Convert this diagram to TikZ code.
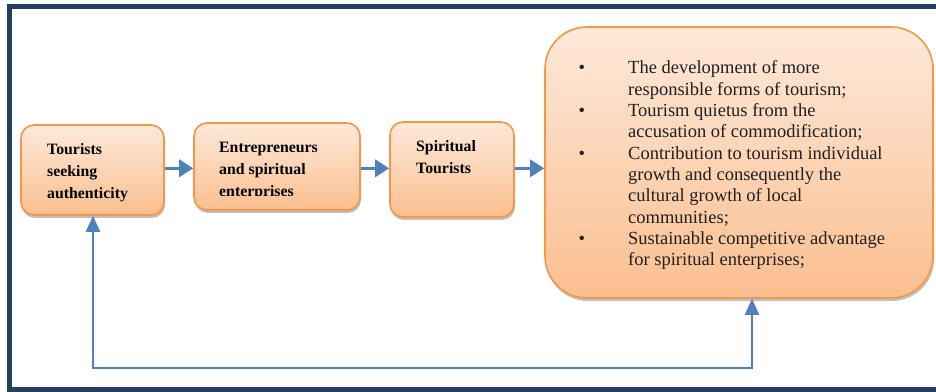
\documentclass[tikz,border=0pt]{standalone}
\usepackage{fontspec}
\setmainfont{Liberation Serif}
\usetikzlibrary{arrows.meta,shadows}
\definecolor{frameblue}{HTML}{243F60}
\definecolor{arrowblue}{HTML}{4F81BD}
\definecolor{boxedge}{HTML}{F79646}
\definecolor{boxtop}{HTML}{FDE9DA}
\definecolor{boxbot}{HTML}{FBBF8F}
\tikzset{
  obox/.style={rectangle, rounded corners=13pt, draw=boxedge, line width=1.6pt,
    top color=boxtop, bottom color=boxbot, inner sep=0pt,
    drop shadow={shadow xshift=1pt, shadow yshift=-3pt, fill=black, opacity=0.25}},
  bigbox/.style={obox, rounded corners=42pt},
  btext/.style={anchor=base west, inner sep=0pt, align=left,
    font=\fontsize{15.8}{22}\selectfont\bfseries},
  ltext/.style={anchor=base west, inner sep=0pt, align=left,
    font=\fontsize{18.5}{21.35}\selectfont, text=black!88},
  flow/.style={draw=arrowblue, line width=3.2pt,
    -{Triangle[width=17pt,length=14pt]}},
  fb/.style={draw=arrowblue, line width=2.4pt,
    {Triangle[width=14pt,length=16pt]}-{Triangle[width=14pt,length=16pt]}},
}
\begin{document}
\begin{tikzpicture}[x=1pt,y=1pt]
\useasboundingbox (0,0) rectangle (936,391);
\fill[white] (0,0) rectangle (936,391);
% frame
\draw[frameblue, line width=5pt] (940,384.2) -- (9.5,384.2) -- (9.5,1.5) -- (940,1.5);
% boxes
\node[obox, minimum width=143pt, minimum height=90pt] (b1) at (92.5,221) {};
\node[obox, minimum width=166pt, minimum height=87pt] (b2) at (277,224.5) {};
\node[obox, minimum width=124pt, minimum height=95pt] (b3) at (452,221.5) {};
\node[bigbox, minimum width=388pt, minimum height=271pt] (big) at (739,228.5) {};
% texts (anchored at the baseline of the last line)
\node[btext] (t1) at (47,192) {Tourists\\seeking\\authenticity};
\begin{scope}
  \clip (195,195) rectangle (359,266);
  \node[btext] (t2) at (219,194) {Entrepreneurs\\and spiritual\\enterprises};
\end{scope}
\node[btext] (t3) at (416,217) {Spiritual\\Tourists};
\node[ltext] (t4) at (578.5,125) {%
\makebox[49.5pt][l]{\textbullet}The development of more\\
\hspace*{49.5pt}responsible forms of tourism;\\
\makebox[49.5pt][l]{\textbullet}Tourism quietus from the\\
\hspace*{49.5pt}accusation of commodification;\\
\makebox[49.5pt][l]{\textbullet}Contribution to tourism individual\\
\hspace*{49.5pt}growth and consequently the\\
\hspace*{49.5pt}cultural growth of local\\
\hspace*{49.5pt}communities;\\
\makebox[49.5pt][l]{\textbullet}Sustainable competitive advantage\\
\hspace*{49.5pt}for spiritual enterprises;};
% arrows
\coordinate (ay) at (0,222.7);
\draw[flow] (b1.east |- ay) -- (b2.west |- ay);
\draw[flow] (b2.east |- ay) -- (b3.west |- ay);
\draw[flow] (b3.east |- ay) -- (big.west |- ay);
% feedback
\coordinate (fbL) at (93,23);
\coordinate (fbR) at (752,23);
\draw[fb] (b1.south -| fbL) -- (fbL) -- (fbR) -- (big.south -| fbR);
\end{tikzpicture}
\end{document}
